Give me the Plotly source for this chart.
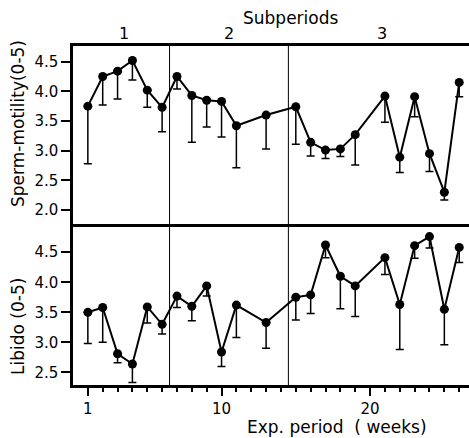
import plotly.graph_objects as go

# ---- data ----
weeks = [1, 2, 3, 4, 5, 6, 7, 8, 9, 10, 11, 13, 15, 16, 17, 18, 19, 21, 22, 23, 24, 25, 26]
motility = [3.75, 4.25, 4.34, 4.52, 4.02, 3.73, 4.25, 3.93, 3.85, 3.83, 3.42, 3.60,
            3.74, 3.14, 3.01, 3.03, 3.27, 3.92, 2.89, 3.91, 2.95, 2.30, 4.15]
motility_low = [2.78, 3.77, 3.87, 4.19, 3.73, 3.32, 4.04, 3.14, 3.40, 3.23, 2.71, 3.03,
                3.11, 2.91, 2.87, 2.90, 2.76, 3.48, 2.63, 3.57, 2.65, 2.17, 3.91]
libido = [3.50, 3.58, 2.81, 2.64, 3.59, 3.30, 3.77, 3.60, 3.94, 2.84, 3.62, 3.33,
          3.75, 3.79, 4.62, 4.10, 3.94, 4.41, 3.63, 4.61, 4.76, 3.55, 4.58]
libido_low = [2.98, 3.00, 2.66, 2.33, 3.32, 3.14, 3.58, 3.36, 3.77, 2.60, 3.08, 2.90,
              3.37, 3.48, 4.41, 3.56, 3.43, 4.13, 2.88, 4.40, 4.57, 2.96, 4.33]
subperiod_bounds = [6.5, 14.5]
subperiod_labels = ["1", "2", "3"]
subperiod_label_weeks = [3.4, 10.5, 20.8]
x_major_ticks = [1, 10, 20]
x_minor_ticks = list(range(1, 27))
motility_ticks = [2.0, 2.5, 3.0, 3.5, 4.0, 4.5]
libido_ticks = [2.5, 3.0, 3.5, 4.0, 4.5]

W, H = 469, 438
L, R, T, B = 73, 0, 46, 53
PW, PH = W - L - R, H - T - B

def px(x):
    return (x - L) / PW

def py(y):
    return 1 - (y - T) / PH

FONT = "DejaVu Sans"
TSIZE = 17
split = py(224)

fig = go.Figure()

def add_series(y, low, xa, ya):
    fig.add_trace(go.Scatter(
        x=weeks, y=y, xaxis=xa, yaxis=ya, mode="lines+markers",
        line=dict(color="black", width=2),
        marker=dict(color="black", size=9),
        error_y=dict(type="data", symmetric=False,
                     array=[0] * len(y),
                     arrayminus=[v - l for v, l in zip(y, low)],
                     color="black", thickness=1.5, width=4),
        showlegend=False, cliponaxis=False))

add_series(motility, motility_low, "x2", "y2")
add_series(libido, libido_low, "x", "y")

axis_common = dict(showgrid=False, zeroline=False, showline=True,
                   linecolor="black", linewidth=2.5)

fig.update_layout(
    width=W, height=H,
    margin=dict(l=L, r=R, t=T, b=B),
    paper_bgcolor="white", plot_bgcolor="white",
    font=dict(family=FONT, size=15, color="black"),
    xaxis=dict(**axis_common, domain=[0, 1], range=[0, 26.66], anchor="y",
               ticks="outside", ticklen=8, tickwidth=2,
               tickcolor="black", tickvals=x_major_ticks,
               minor=dict(tickvals=x_minor_ticks, ticklen=4, tickwidth=2,
                          tickcolor="black", ticks="outside"),
               tickfont=dict(family=FONT, size=15)),
    yaxis=dict(**axis_common, domain=[0, split], range=[2.29, 4.97], anchor="x",
               ticks="outside", ticklen=9, tickwidth=2, tickcolor="black",
               tickvals=libido_ticks, tickformat=".1f",
               tickfont=dict(family=FONT, size=15)),
    xaxis2=dict(**axis_common, domain=[0, 1], range=[0, 26.66], anchor="y2",
                mirror=True, ticks="", showticklabels=False),
    yaxis2=dict(**axis_common, domain=[split, 1], range=[1.764, 4.764], anchor="x2",
                ticks="outside", ticklen=9, tickwidth=2, tickcolor="black",
                tickvals=motility_ticks, tickformat=".1f",
                tickfont=dict(family=FONT, size=15)),
)

for b in subperiod_bounds:
    fig.add_shape(type="line", xref="x", yref="paper", x0=b, x1=b, y0=0, y1=1,
                  line=dict(color="black", width=1))

ann = []
for lab, wk in zip(subperiod_labels, subperiod_label_weeks):
    ann.append(dict(text=lab, xref="x", yref="paper", x=wk, y=py(33),
                    showarrow=False, font=dict(size=16), yanchor="middle"))
ann.append(dict(text="Subperiods", xref="paper", yref="paper", x=px(291), y=py(18),
                showarrow=False, font=dict(size=TSIZE), yanchor="middle"))
ann.append(dict(text="Exp. period  ( weeks)", xref="paper", yref="paper", x=px(337),
                y=py(427), showarrow=False, font=dict(size=TSIZE), yanchor="middle"))
ann.append(dict(text="Sperm-motility(0-5)", xref="paper", yref="paper", x=px(18),
                y=py(124), showarrow=False, textangle=-90, font=dict(size=TSIZE),
                xanchor="center", yanchor="middle"))
ann.append(dict(text="Libido (0-5)", xref="paper", yref="paper", x=px(18),
                y=py(327), showarrow=False, textangle=-90, font=dict(size=TSIZE),
                xanchor="center", yanchor="middle"))
fig.update_layout(annotations=ann)

fig.write_html("out.html", config={"displayModeBar": False},
               post_script="document.body.style.margin='0';document.body.style.overflow='hidden';")
